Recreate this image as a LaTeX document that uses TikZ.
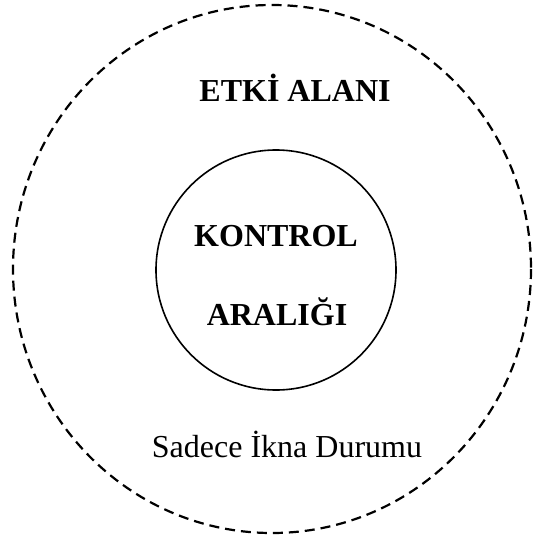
\documentclass[tikz,border=0pt]{standalone}
\usepackage{fontspec}
\setmainfont{Liberation Serif}
\usepackage{tikz}

\begin{document}
\begin{tikzpicture}[x=1pt, y=-1pt, thick]
    \useasboundingbox (0, 0) rectangle (533, 540);
    \coordinate (O1) at (272, 269);
    \coordinate (O2) at (276, 270);
    \def\R{120}

    % Areas
    \draw[line width=2.2pt, dash pattern=on 10pt off 6pt] (O1) ellipse [x radius=259, y radius=264];
    \draw[line width=1.6pt] (O2) circle (\R);

    % Labels
    \node[anchor=base, inner sep=0pt, font=\fontsize{32}{38}\selectfont\bfseries] (etki) at (295, 102) {ETKİ ALANI};
    \node[anchor=base, inner sep=0pt, font=\fontsize{32}{38}\selectfont\bfseries] (kontrol) at (276, 246) {KONTROL};
    \node[anchor=base, inner sep=0pt, font=\fontsize{32}{38}\selectfont\bfseries] (aralik) at (277, 325) {ARALIĞI};
    \node[anchor=base, inner sep=0pt, font=\fontsize{32}{38}\selectfont] (ikna) at (287, 457) {Sadece İkna Durumu};
\end{tikzpicture}
\end{document}
